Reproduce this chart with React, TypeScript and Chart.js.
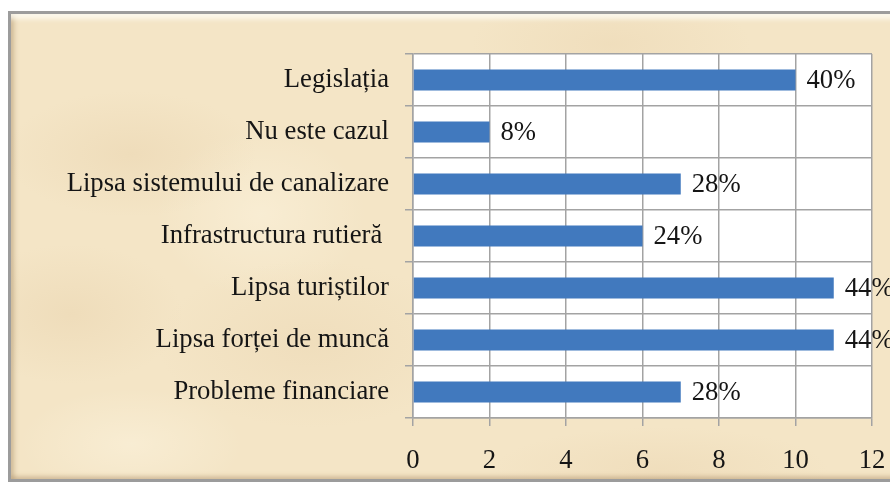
import React, { useEffect, useRef } from "react";
import { Chart, registerables } from "chart.js";

Chart.register(...registerables);

const categories = [
  "Legislația",
  "Nu este cazul",
  "Lipsa sistemului de canalizare",
  "Infrastructura rutieră ",
  "Lipsa turiștilor",
  "Lipsa forței de muncă",
  "Probleme financiare",
];
const values = [10, 2, 7, 6, 11, 11, 7];
const percentLabels = ["40%", "8%", "28%", "24%", "44%", "44%", "28%"];
const xTicks = [0, 2, 4, 6, 8, 10, 12];

const FONT = "'Liberation Serif', 'Times New Roman', serif";
const GRID = "#a3a3a3";
const FS = 26.7;

const plotBg = {
  id: "plotBg",
  beforeDraw(chart: any) {
    const { ctx, chartArea } = chart;
    ctx.save();
    ctx.fillStyle = "#ffffff";
    ctx.fillRect(chartArea.left, chartArea.top, chartArea.right - chartArea.left, chartArea.bottom - chartArea.top);
    ctx.restore();
  },
};

const dataLabels = {
  id: "dataLabels",
  afterDatasetsDraw(chart: any) {
    const { ctx } = chart;
    const meta = chart.getDatasetMeta(0);
    ctx.save();
    ctx.font = `${FS}px ${FONT}`;
    ctx.fillStyle = "#151515";
    ctx.textAlign = "left";
    ctx.textBaseline = "middle";
    meta.data.forEach((bar: any, i: number) => {
      ctx.fillText(percentLabels[i], bar.x + 11, bar.y + 1);
    });
    ctx.restore();
  },
};

export default function App() {
  const ref = useRef<HTMLCanvasElement>(null);
  useEffect(() => {
    document.body.style.margin = "0";
    const chart = new Chart(ref.current!, {
      type: "bar",
      data: {
        labels: categories,
        datasets: [
          {
            data: values,
            backgroundColor: "#4179be",
            borderWidth: 0,
            barPercentage: 0.4,
            categoryPercentage: 1,
          },
        ],
      },
      options: {
        indexAxis: "y",
        animation: false,
        responsive: false,
        maintainAspectRatio: false,
        layout: { padding: { top: 54, right: 18, left: 0, bottom: 0 } },
        plugins: { legend: { display: false }, tooltip: { enabled: false } },
        scales: {
          x: {
            min: 0,
            max: 12,
            afterBuildTicks(scale: any) {
              scale.ticks = xTicks.map((v) => ({ value: v }));
            },
            afterFit(scale: any) {
              scale.height = 64;
              scale.paddingLeft = 0;
              scale.paddingRight = 0;
            },
            grid: { color: GRID, lineWidth: 1.5, tickLength: 8 },
            border: { color: GRID, width: 1.5 },
            ticks: {
              font: { family: FONT, size: FS },
              color: "#151515",
              padding: 19,
              maxRotation: 0,
            },
          },
          y: {
            afterFit(scale: any) {
              scale.width = 413;
              scale.paddingTop = 0;
              scale.paddingBottom = 0;
            },
            grid: { color: GRID, lineWidth: 1.5, tickLength: 8, offset: true },
            border: { color: GRID, width: 1.5 },
            ticks: {
              font: { family: FONT, size: FS },
              color: "#151515",
              padding: 16,
            },
          },
        },
      },
      plugins: [plotBg, dataLabels],
    });
    return () => chart.destroy();
  }, []);

  const parchment = [
    "radial-gradient(ellipse 180px 90px at 120px 140px, rgba(220,190,145,0.22), transparent 70%)",
    "radial-gradient(ellipse 220px 120px at 300px 330px, rgba(220,190,145,0.18), transparent 70%)",
    "radial-gradient(ellipse 160px 100px at 60px 300px, rgba(220,190,145,0.22), transparent 70%)",
    "radial-gradient(ellipse 200px 80px at 600px 30px, rgba(220,190,145,0.18), transparent 70%)",
    "radial-gradient(ellipse 240px 60px at 650px 455px, rgba(220,190,145,0.18), transparent 70%)",
    "radial-gradient(ellipse 150px 120px at 250px 200px, rgba(255,248,230,0.4), transparent 70%)",
    "radial-gradient(ellipse 160px 80px at 120px 430px, rgba(255,248,230,0.4), transparent 70%)",
    "linear-gradient(#f4e5c6, #f4e5c6)",
  ].join(", ");

  return (
    <div
      style={{
        position: "fixed",
        left: 0,
        top: 0,
        width: 890,
        height: 482,
        overflow: "hidden",
        background: "#ffffff",
      }}
    >
      <div
        style={{
          position: "absolute",
          left: 8,
          top: 11,
          width: 900,
          height: 471,
          boxSizing: "border-box",
          border: "3px solid #9c9c9c",
          background: parchment,
          boxShadow:
            "inset 0 8px 5px -3px rgba(255,255,250,0.75), inset 5px 0 5px -2px rgba(160,130,90,0.45), inset 0 -5px 4px -2px rgba(160,130,90,0.35)",
        }}
      />
      <canvas
        ref={ref}
        width={890}
        height={482}
        style={{ position: "absolute", left: 0, top: 0, display: "block" }}
      />
    </div>
  );
}
